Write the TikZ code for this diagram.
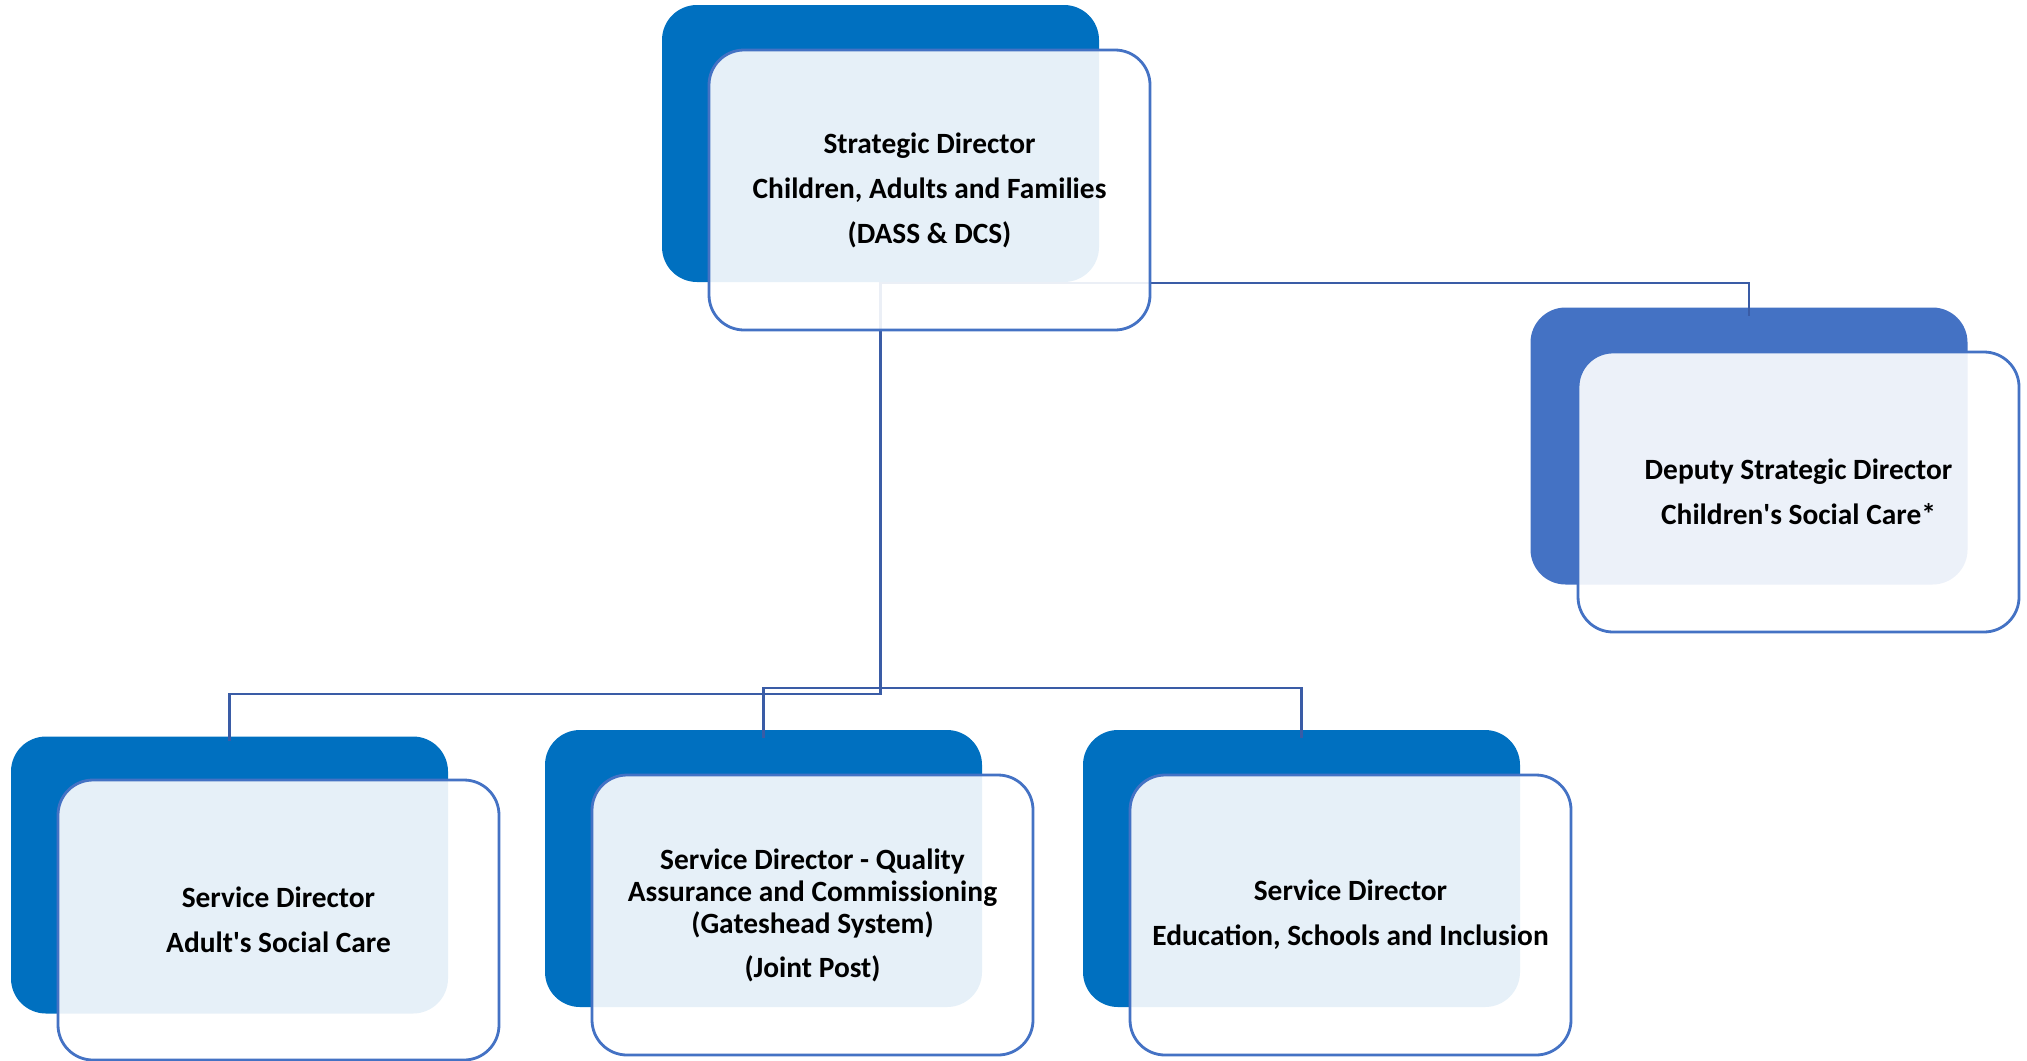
\documentclass[tikz,border=0pt]{standalone}
\usepackage{fontspec}
\setmainfont{Carlito}
\usetikzlibrary{positioning}

\definecolor{darkblue}{HTML}{0070C0}
\definecolor{midblue}{HTML}{4472C4}
\definecolor{linkblue}{HTML}{3A5CA6}

\tikzset{
  backbox/.style={fill=darkblue, draw=none, rounded corners=17.5pt,
    minimum width=218.5pt, minimum height=138.5pt, inner sep=0pt, outer sep=0pt},
  frontbox/.style={fill=white, fill opacity=0.9, text opacity=1, draw=midblue,
    line width=1.4pt, rounded corners=17.5pt, minimum width=220.5pt,
    minimum height=140pt, inner sep=0pt, outer sep=0pt, align=center,
    font=\fontsize{14.7}{22.5}\selectfont\bfseries},
  link/.style={draw=linkblue, line width=1.3pt}
}

\begin{document}
\begin{tikzpicture}[x=0.5pt, y=-0.5pt]

	\useasboundingbox (0,0) rectangle (2027,1060);

	% back boxes
	\node[backbox] (topback) at (880.5,143.5) {};
	\node[backbox, fill=midblue] (depback) at (1749,446) {};
	\node[backbox] (leftback) at (229.5,875) {};
	\node[backbox] (midback) at (763.5,868.5) {};
	\node[backbox] (rightback) at (1301.5,868.5) {};

	% connectors
	\coordinate (busA) at (880.5,694);
	\coordinate (busB) at (880.5,688);
	\draw[link] (topback.south) -- (busA) -| ([yshift=-2]leftback.north);
	\draw[link] (busB) -| ([yshift=-4]midback.north);
	\draw[link] (busB) -| ([yshift=-4]rightback.north);
	\draw[link] (topback.south) ++(0,1) -| ([yshift=-4]depback.north);

	% front boxes
	\node[frontbox] (top) at (929.5,190) {Strategic Director\\Children, Adults and Families\\(DASS \& DCS)};
	\node[frontbox] (dep) at (1798.5,492) {Deputy Strategic Director\\Children\textquotesingle s Social Care*};
	\node[frontbox] (left) at (278.5,920) {Service Director\\Adult\textquotesingle s Social Care};
	\node[frontbox, font=\fontsize{14.7}{16}\selectfont\bfseries] (mid) at (812.5,915)
		{Service Director - Quality\\Assurance and Commissioning\\(Gateshead System)\\[6pt](Joint Post)};
	\node[frontbox] (right) at (1350.5,915) {Service Director\\Education, Schools and Inclusion};

\end{tikzpicture}
\end{document}
